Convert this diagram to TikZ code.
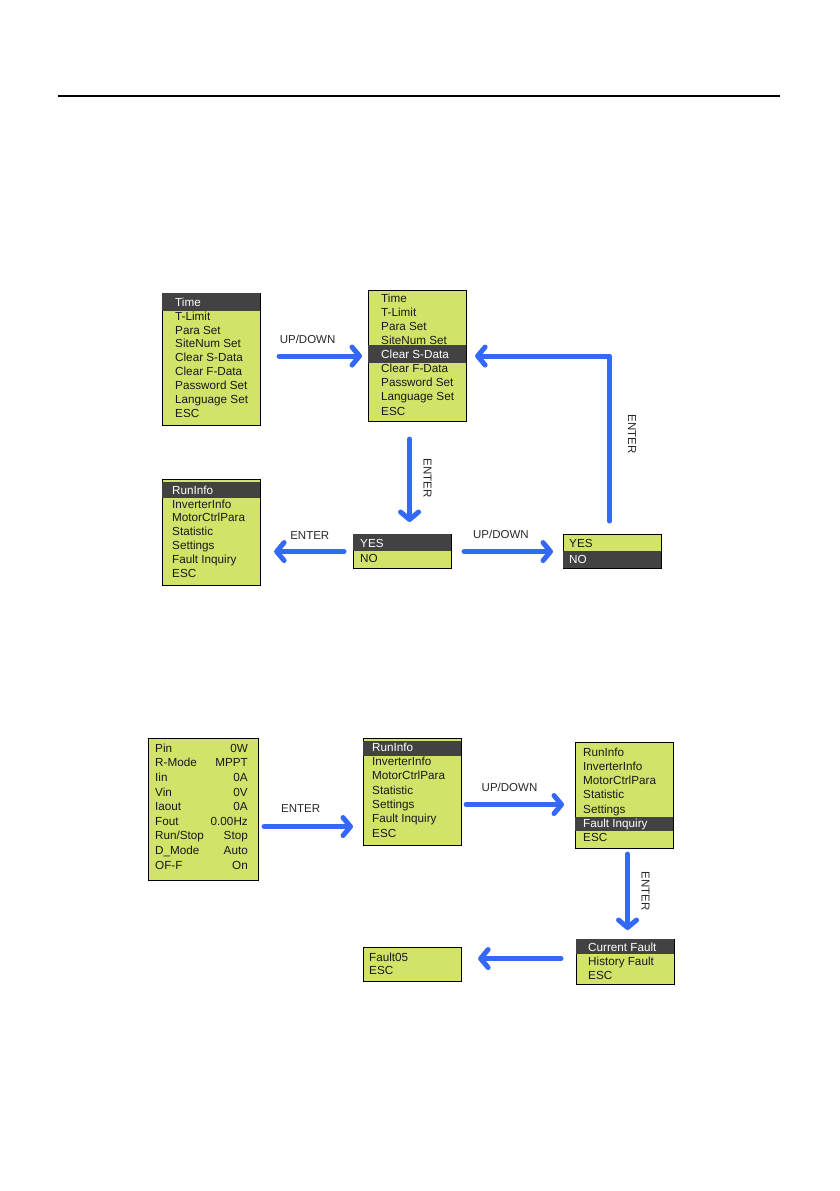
\documentclass[tikz,border=0pt]{standalone}
\usepackage{fontspec}
\setmainfont{Liberation Sans}
\usepackage{xcolor}
\usetikzlibrary{arrows.meta,positioning,calc}
\definecolor{lcdgreen}{RGB}{211,226,104}
\definecolor{lcddark}{RGB}{66,66,66}
\definecolor{lcdtext}{RGB}{25,25,25}
\definecolor{keyblue}{RGB}{52,104,246}
\definecolor{keygray}{RGB}{40,40,40}
\tikzset{
  screen/.style={draw, fill=lcdgreen, line width=1.1pt, anchor=north west,
    inner sep=0pt, minimum width=98pt},
  row/.style={anchor=west, inner sep=0pt, text height=8.4pt, text depth=0pt,
    font=\fontsize{11.7}{12}\selectfont, text=lcdtext},
  selrow/.style={row, text=white},
  selbar/.style={fill=lcddark},
  flow/.style={-{Straight Barb[length=7.5pt, width=18pt, round]}, line width=5pt,
    draw=keyblue, line cap=round, line join=round},
  keylabel/.style={font=\fontsize{11.5}{12}\selectfont, text=keygray, inner sep=0pt},
  vlabel/.style={keylabel, rotate=-90, anchor=south, inner ysep=#1},
  vlabel/.default=11.5pt,
  rulebar/.style={line width=1.4pt, black},
}
\begin{document}
\begin{tikzpicture}[x=1pt, y=-1pt]
  \fill[white] (0,0) rectangle (839,1191);
  \useasboundingbox (0,0) rectangle (839,1191);
  \draw[rulebar] (58,96) -- (780,96);

  \node[screen, minimum height=132pt] (menuA) at (162,293) {};
  \fill[selbar] (menuA.north west) rectangle ++(98,18);
  \foreach \t/\s [count=\i from 0] in {Time/selrow,T-Limit/row,Para Set/row,SiteNum Set/row,
      Clear S-Data/row,Clear F-Data/row,Password Set/row,Language Set/row,ESC/row}
    \node[\s] (a\i) at (175, 302+13.9*\i) {\t};

  \node[screen, minimum height=131pt] (menuB) at (368,290) {};
  \fill[selbar] ([yshift=-55pt]menuB.north west) rectangle ++(98,18);
  \foreach \t/\s [count=\i from 0] in {Time/row,T-Limit/row,Para Set/row,SiteNum Set/row,
      Clear S-Data/selrow,Clear F-Data/row,Password Set/row,Language Set/row,ESC/row}
    \node[\s] (b\i) at (381, 298+14.1*\i) {\t};

  \node[screen, minimum height=34pt] (menuC) at (353,534) {};
  \fill[selbar] (menuC.north west) rectangle ++(98,17);
  \node[selrow] (c0) at (360,543) {YES};
  \node[row] (c1) at (360,558) {NO};

  \node[screen, minimum height=34pt] (menuD) at (563,534) {};
  \fill[selbar] ([yshift=-17pt]menuD.north west) rectangle ++(98,17);
  \node[row] (d0) at (569,543.5) {YES};
  \node[selrow] (d1) at (569,559) {NO};

  \node[screen, minimum height=106pt] (menuE) at (162,479) {};
  \fill[selbar] ([yshift=-3pt]menuE.north west) rectangle ++(98,16);
  \foreach \t/\s [count=\i from 0] in {RunInfo/selrow,InverterInfo/row,MotorCtrlPara/row,
      Statistic/row,Settings/row,Fault Inquiry/row,ESC/row}
    \node[\s] (e\i) at (172, 490+13.8*\i) {\t};

  \draw[flow, shorten <=18pt, shorten >=6pt] (menuA.east |- menuB.west) -- (menuB.west)
    node[keylabel, pos=0.435, above=10pt] {UP/DOWN};
  \draw[flow, shorten <=13pt, shorten >=8pt] ([xshift=-3pt]menuD.north) |- (menuB.east)
    node[vlabel=16pt, pos=0.28] {ENTER};
  \draw[flow, shorten <=17pt, shorten >=12pt] ([xshift=-8pt]menuB.south)
    -- ([xshift=-8pt]menuB.south |- menuC.north) node[vlabel, midway] {ENTER};
  \draw[flow, shorten <=9pt, shorten >=13pt] (menuC.west) -- (menuC.west -| menuE.east)
    node[keylabel, pos=0.47, above=10pt] {ENTER};
  \draw[flow, shorten <=12pt, shorten >=10pt] (menuC.east) -- (menuD.west)
    node[keylabel, pos=0.44, above=10pt] {UP/DOWN};

  \node[screen, minimum width=110pt, minimum height=142pt] (menuF) at (148,738) {};
  \foreach \l/\r [count=\i from 0] in {Pin/0W,R-Mode/MPPT,Iin/0A,Vin/0V,Iaout/0A,Fout/0.00Hz,
      {Run/Stop}/Stop,D\_Mode/Auto,OF-F/On} {
    \node[row] (fl\i) at (155, 748+14.6*\i) {\l};
    \node[row, anchor=east] (fr\i) at (248, 748+14.6*\i) {\r};
  }

  \node[screen, minimum height=107pt] (menuG) at (363,738) {};
  \fill[selbar] ([yshift=-3pt]menuG.north west) rectangle ++(98,15);
  \foreach \t/\s [count=\i from 0] in {RunInfo/selrow,InverterInfo/row,MotorCtrlPara/row,
      Statistic/row,Settings/row,Fault Inquiry/row,ESC/row}
    \node[\s] (g\i) at (372, 747+14.3*\i) {\t};

  \node[screen, minimum height=106pt] (menuH) at (575,742) {};
  \fill[selbar] ([yshift=-75pt]menuH.north west) rectangle ++(98,13.5);
  \foreach \t/\s [count=\i from 0] in {RunInfo/row,InverterInfo/row,MotorCtrlPara/row,
      Statistic/row,Settings/row,Fault Inquiry/selrow,ESC/row}
    \node[\s] (h\i) at (583, 752+14.2*\i) {\t};

  \node[screen, minimum height=45pt] (menuI) at (576,939) {};
  \fill[selbar] (menuI.north west) rectangle ++(98,15);
  \foreach \t/\s [count=\i from 0] in {Current Fault/selrow,History Fault/row,ESC/row}
    \node[\s] (i\i) at (588, 947+14*\i) {\t};

  \node[screen, minimum height=34pt] (menuJ) at (363,947) {};
  \node[row] (j0) at (369,957) {Fault05};
  \node[row] (j1) at (369,970.5) {ESC};

  \draw[flow, shorten <=5pt, shorten >=10pt] ([yshift=-17pt]menuF.east)
    -- ([yshift=-17pt]menuF.east -| menuG.west) node[keylabel, pos=0.4, above=12pt] {ENTER};
  \draw[flow, shorten <=4pt, shorten >=11pt] ([yshift=-12.5pt]menuG.east)
    -- ([yshift=-12.5pt]menuG.east -| menuH.west) node[keylabel, pos=0.42, above=10pt] {UP/DOWN};
  \draw[flow, shorten <=5pt, shorten >=9pt] ([xshift=3pt]menuH.south)
    -- ([xshift=3pt]menuH.south |- menuI.north) node[vlabel, pos=0.47] {ENTER};
  \draw[flow, shorten <=15pt, shorten >=16pt] ([yshift=3.5pt]menuI.west)
    -- ([yshift=3.5pt]menuI.west -| menuJ.east);
\end{tikzpicture}
\end{document}
